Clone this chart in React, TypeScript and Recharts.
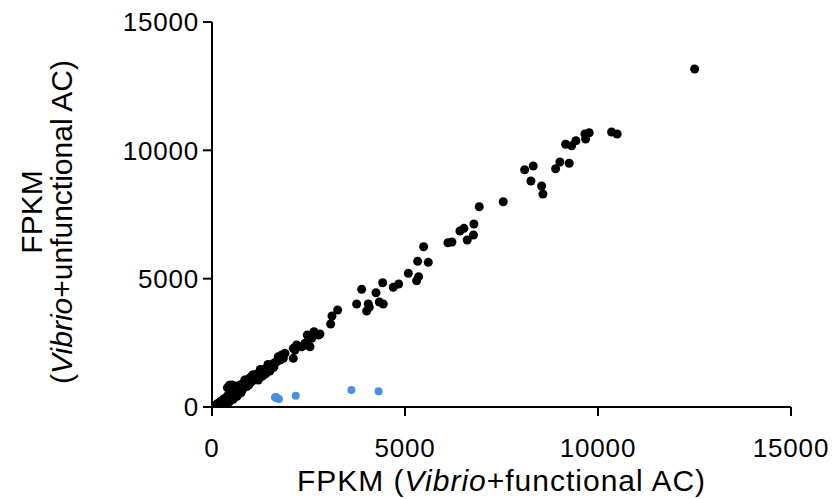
import React from 'react';
import { ScatterChart, Scatter, XAxis, YAxis, Label } from 'recharts';

const blackX = [20,40,60,80,100,120,150,170,200,220,250,270,300,320,350,380,400,420,450,480,500,520,550,580,600,620,650,680,700,730,760,800,830,850,880,900,950,980,1000,1050,1100,1150,1200,1250,1300,1350,1400,1450,1500,1550,1600,1650,1700,1750,1800,
  450,400,510,480,700,900,1200,1500,1300,350,450,550,650,750,300,200,250,1589,1675,1718,1100,1000,800,1400,1600,
  600,850,1050,1250,1450,650,950,1150,1350,560,
  1805,1847,1761,1891,2106,2106,2150,2193,2323,2435,2538,2469,2642,2753,2582,2409,2797,3074,3108,3255,3747,3877,4049,4006,4074,4248,4334,4437,4421,4696,4836,5085,5301,5353,5327,5603,5483,6112,6216,6423,6527,6612,6773,6786,6923,7545,8099,8322,8262,8539,8573,8902,9013,9254,9161,9316,9428,9661,9772,9679,10352,10497,12504];
const blackY = [10,30,40,60,90,100,120,160,170,210,230,260,280,330,330,380,420,450,480,520,560,600,610,650,700,720,760,780,820,850,880,900,950,980,1000,1050,1080,1120,1150,1180,1250,1280,1300,1380,1420,1450,1500,1550,1600,1650,1700,1750,1800,1850,1950,
  850,750,860,700,600,800,1050,1400,1200,100,200,300,420,550,150,60,120,1570,1765,1960,1050,950,700,1300,1550,
  820,1050,1250,1460,1660,560,850,1080,1260,780,
  2026,1897,1831,2091,1897,2286,2221,2416,2349,2416,2349,2805,2934,2805,2676,2481,2844,3234,3545,3779,4013,4585,4013,3740,3883,4453,4091,4013,4843,4663,4792,5209,4921,5077,5676,5637,6245,6401,6428,6857,6961,6506,6701,7130,7804,7998,9245,9389,8805,8610,8298,9284,9545,9495,10235,10180,10375,10636,10687,10441,10714,10636,13168];

const blueX = [1632,1675,1735,1658,2168,3610,4315];
const blueY = [378,338,312,390,440,662,617];

const axisTicks = [0, 5000, 10000, 15000];

const blackData = blackX.map((x, i) => ({ x, y: blackY[i] }));
const blueData = blueX.map((x, i) => ({ x, y: blueY[i] }));

const FONT = '"Liberation Sans", Arial, Helvetica, sans-serif';

const BlackDot = (p: any) => <circle cx={p.cx} cy={p.cy} r={4.5} fill="#000" />;
const BlueDot = (p: any) => <circle cx={p.cx} cy={p.cy} r={4} fill="#4A90E2" />;

const XLabel = (props: any) => {
  const vb = props.viewBox || {};
  const cx = vb.x + vb.width / 2;
  return (
    <text x={cx} y={491} textAnchor="middle" fontFamily={FONT} fontSize={30} letterSpacing={1} fill="#000">
      FPKM (<tspan fontStyle="italic">Vibrio</tspan>+functional AC)
    </text>
  );
};

const YLabel = () => {
  const c1 = 212;
  const c2 = 222;
  return (
    <g>
      <text x={42} y={c1} transform={`rotate(-90 42 ${c1})`} textAnchor="middle" fontFamily={FONT} fontSize={30} fill="#000">
        FPKM
      </text>
      <text x={72} y={c2} transform={`rotate(-90 72 ${c2})`} textAnchor="middle" fontFamily={FONT} fontSize={30} fill="#000">
        (<tspan fontStyle="italic">Vibrio</tspan>+unfunctional AC)
      </text>
    </g>
  );
};

const tickStyle = { fontSize: 26, fill: '#000', fontFamily: FONT, letterSpacing: 0.8 };

export default function App() {
  return (
    <div style={{ position: 'absolute', left: 0, top: 0, width: 833, height: 499, background: '#fff' }}>
      <ScatterChart width={833} height={499} margin={{ top: 22, right: 42, bottom: 0, left: 112 }}>
        <XAxis
          type="number"
          dataKey="x"
          domain={[0, 15000]}
          ticks={axisTicks}
          allowDataOverflow
          height={92}
          tickSize={9}
          tickMargin={23}
          stroke="#000"
          strokeWidth={2}
          tick={tickStyle}
          interval={0}
        >
          <Label content={<XLabel />} />
        </XAxis>
        <YAxis
          type="number"
          dataKey="y"
          domain={[0, 15000]}
          ticks={axisTicks}
          allowDataOverflow
          width={100}
          tickSize={9}
          tickMargin={4}
          stroke="#000"
          strokeWidth={2}
          tick={tickStyle}
          interval={0}
        >
          <Label content={<YLabel />} />
        </YAxis>
        <Scatter data={blackData} fill="#000" shape={BlackDot} isAnimationActive={false} />
        <Scatter data={blueData} fill="#4A90E2" shape={BlueDot} isAnimationActive={false} />
      </ScatterChart>
    </div>
  );
}
